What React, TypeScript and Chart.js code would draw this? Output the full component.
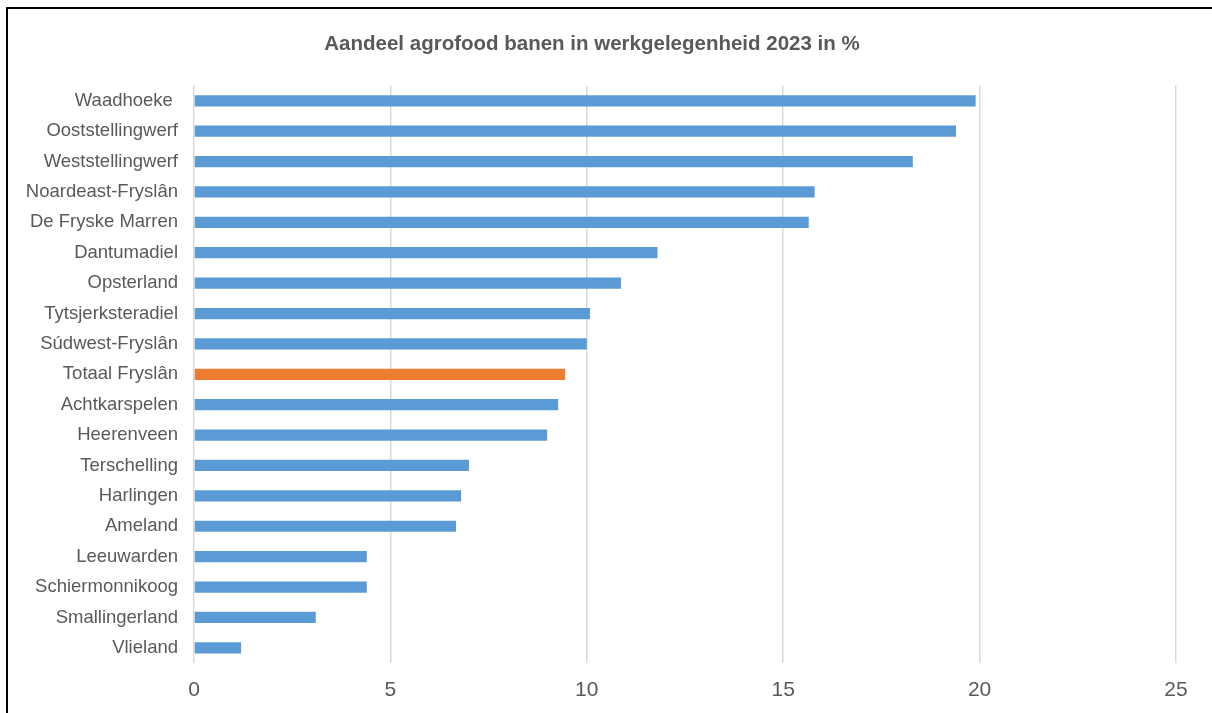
import React, { useEffect, useRef } from "react";
import { Chart, registerables } from "chart.js";

Chart.register(...registerables);

const categories = [
  "Waadhoeke ",
  "Ooststellingwerf",
  "Weststellingwerf",
  "Noardeast-Fryslân",
  "De Fryske Marren",
  "Dantumadiel",
  "Opsterland",
  "Tytsjerksteradiel",
  "Súdwest-Fryslân",
  "Totaal Fryslân",
  "Achtkarspelen",
  "Heerenveen",
  "Terschelling",
  "Harlingen",
  "Ameland",
  "Leeuwarden",
  "Schiermonnikoog",
  "Smallingerland",
  "Vlieland",
];

const values = [
  19.9, 19.4, 18.3, 15.8, 15.65, 11.8, 10.87, 10.08, 10.0, 9.45, 9.27, 8.99, 7.0,
  6.8, 6.67, 4.4, 4.4, 3.1, 1.2,
];

const highlight = "Totaal Fryslân";
const title = "Aandeel agrofood banen in werkgelegenheid 2023 in %";

const FONT = "'Liberation Sans', Arial, sans-serif";

export default function App() {
  const ref = useRef<HTMLCanvasElement | null>(null);

  useEffect(() => {
    if (!ref.current) return;
    const chart = new Chart(ref.current, {
      type: "bar",
      data: {
        labels: categories,
        datasets: [
          {
            data: values,
            backgroundColor: categories.map((c) => (c === highlight ? "#ED7D31" : "#5B9BD5")),
            barPercentage: 0.37,
            categoryPercentage: 1,
          },
        ],
      },
      options: {
        indexAxis: "y",
        animation: false,
        responsive: false,
        maintainAspectRatio: false,
        layout: { padding: { left: 0, right: 36, top: 0, bottom: 0 } },
        plugins: {
          legend: { display: false },
          tooltip: { enabled: false },
          title: {
            display: true,
            text: title,
            color: "#595959",
            font: { family: FONT, size: 20.5, weight: "bold" },
            padding: { top: 23, bottom: 29 },
          },
        },
        scales: {
          x: {
            min: 0,
            max: 25,
            ticks: {
              stepSize: 5,
              color: "#595959",
              padding: 15,
              font: { family: FONT, size: 21 },
            },
            grid: { color: "#d9d9d9", lineWidth: 1.5, drawTicks: false },
            border: { display: false },
            afterFit: (scale: any) => {
              scale.height = 50;
            },
          },
          y: {
            ticks: {
              color: "#595959",
              padding: 16,
              autoSkip: false,
              font: { family: FONT, size: 18.5 },
            },
            grid: { display: false, drawTicks: false },
            border: { display: false },
            afterFit: (scale: any) => {
              scale.width = 186;
            },
          },
        },
      },
    });
    return () => chart.destroy();
  }, []);

  return (
    <div
      style={{
        position: "fixed",
        left: 6,
        top: 7,
        width: 1206,
        height: 706,
        borderTop: "2px solid #000",
        borderLeft: "2px solid #000",
        background: "#fff",
        overflow: "hidden",
      }}
    >
      <canvas ref={ref} width={1204} height={704} style={{ display: "block" }} />
    </div>
  );
}
